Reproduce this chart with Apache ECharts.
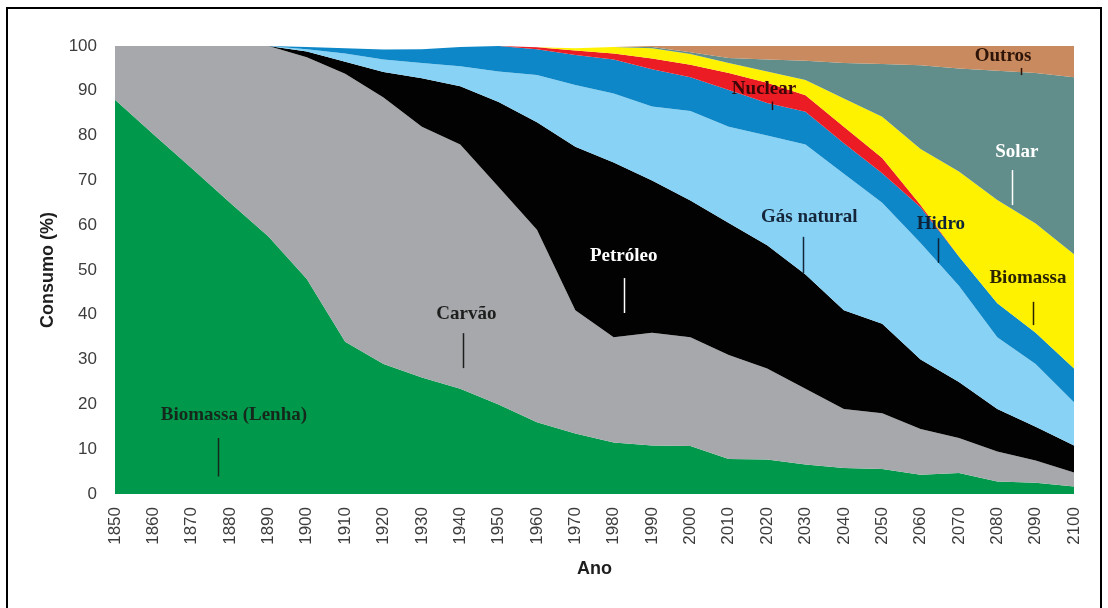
<!DOCTYPE html>
<html>
<head>
<meta charset="utf-8">
<script src="https://cdn.jsdelivr.net/npm/echarts@6/dist/echarts.min.js"></script>
<style>
  html, body { margin: 0; padding: 0; background: #ffffff; }
  #chart { width: 1108px; height: 608px; }
</style>
</head>
<body>
<div id="chart"></div>
<script>
// Participação de cada fonte no consumo mundial de energia (%), por década
const years = [1850, 1860, 1870, 1880, 1890, 1900, 1910, 1920, 1930, 1940, 1950, 1960, 1970,
               1980, 1990, 2000, 2010, 2020, 2030, 2040, 2050, 2060, 2070, 2080, 2090, 2100];

const lenha    = [88, 80.3, 72.7, 65, 57.5, 48, 34, 29, 26, 23.5, 20, 16, 13.5,
                  11.5, 10.8, 10.7, 7.8, 7.7, 6.6, 5.8, 5.6, 4.3, 4.7, 2.8, 2.5, 1.7];
const carvao   = [12, 19.7, 27.3, 35, 42.5, 49.5, 59.8, 59.5, 56, 54.5, 48.5, 43, 27.5,
                  23.5, 25.2, 24.3, 23.2, 20.3, 16.9, 13.2, 12.4, 10.2, 7.8, 6.7, 5, 3.1];
const petroleo = [0, 0, 0, 0, 0, 1.3, 2.7, 5.7, 10.8, 13, 19, 24, 36.5,
                  39, 34, 30.5, 29.5, 27.5, 25.5, 22, 20, 15.5, 12.5, 9.5, 7.5, 6];
const gasNatural = [0, 0, 0, 0, 0, 0.5, 1.8, 2.8, 3.4, 4.5, 6.8, 10.5, 13.8,
                  15.4, 16.5, 20, 21.5, 24.5, 29, 30.5, 27, 26, 21.5, 16, 14, 9.7];
const hidro    = [0, 0, 0, 0, 0, 0.5, 1.2, 2.2, 3.1, 4.3, 5.7, 5.8, 6.7,
                  7.6, 8.3, 7.5, 8.2, 7.3, 7.3, 6.8, 6.6, 8, 6.5, 7.6, 7, 7.5];
const nuclear  = [0, 0, 0, 0, 0, 0, 0, 0, 0, 0, 0, 0.4, 1,
                  1.3, 2.4, 2.8, 3.8, 4.5, 3.7, 3.7, 3.4, 0.5, 0, 0, 0, 0];
const biomassa = [0, 0, 0, 0, 0, 0, 0, 0, 0, 0, 0, 0, 0.5,
                  1.5, 2.3, 2.4, 2.2, 2.5, 3.4, 6.3, 9.2, 12.5, 19, 23, 24.4, 25.5];
const solar    = [0, 0, 0, 0, 0, 0, 0, 0, 0, 0, 0, 0, 0,
                  0, 0.3, 0.4, 1.1, 2.7, 4.3, 7.9, 11.8, 18.7, 23, 28.9, 33.6, 39.5];
const outros   = [0, 0, 0, 0, 0, 0, 0, 0, 0, 0, 0, 0, 0,
                  0, 0.2, 1.4, 2.7, 3, 3.3, 3.8, 4, 4.3, 5, 5.5, 6, 7];

// Camadas, de baixo para cima
const layers = [
  { name: 'Biomassa (Lenha)', values: lenha,      color: '#00994c' },
  { name: 'Carvão',           values: carvao,     color: '#a6a8ab' },
  { name: 'Petróleo',         values: petroleo,   color: '#020202' },
  { name: 'Gás natural',      values: gasNatural, color: '#87d2f5' },
  { name: 'Hidro',            values: hidro,      color: '#0d87c7' },
  { name: 'Nuclear',          values: nuclear,    color: '#ec1c24' },
  { name: 'Biomassa',         values: biomassa,   color: '#fff200' },
  { name: 'Solar',            values: solar,      color: '#618d8a' },
  { name: 'Outros',           values: outros,     color: '#c88a5e' }
];

// Rótulos das camadas: posição do texto e do traço indicador em coordenadas (ano, %)
const annotations = [
  { text: 'Biomassa (Lenha)', at: [1881.0, 17.6], line: [1876.9, 12.5, 3.9],  color: '#16281b' },
  { text: 'Carvão',           at: [1941.6, 40.2], line: [1940.6, 35.9, 28.1], color: '#1e1e1e' },
  { text: 'Petróleo',         at: [1982.6, 53.0], line: [1982.8, 48.2, 40.4], color: '#ffffff' },
  { text: 'Gás natural',      at: [2031.0, 61.9], line: [2029.3, 57.4, 49.3], color: '#16263a' },
  { text: 'Hidro',            at: [2065.3, 60.3], line: [2064.5, 57.1, 51.6], color: '#0e2238' },
  { text: 'Biomassa',         at: [2088.0, 48.1], line: [2089.3, 42.9, 37.7], color: '#2a2300' },
  { text: 'Solar',            at: [2085.1, 76.3], line: [2083.8, 72.3, 64.5], color: '#ffffff' },
  { text: 'Nuclear',          at: [2019.2, 90.4], line: [2021.2, 87.6, 85.7], color: '#3a0808' },
  { text: 'Outros',           at: [2081.5, 97.7], line: [2086.2, 95.1, 93.5], color: '#2e1408' }
];

const chart = echarts.init(document.getElementById('chart'), null, { renderer: 'canvas' });

const tickFont = { fontFamily: 'Liberation Sans, Arial, sans-serif', fontSize: 17, color: '#3c3c3c' };
const titleFont = { fontFamily: 'Liberation Sans, Arial, sans-serif', fontSize: 18, fontWeight: 'bold', color: '#1e1e1e' };

chart.setOption({
  animation: false,
  backgroundColor: '#ffffff',
  grid: { left: 115, right: 34, top: 46, bottom: 114 },
  xAxis: [
    {
      type: 'category',
      data: years.map(String),
      boundaryGap: false,
      name: 'Ano',
      nameLocation: 'middle',
      nameGap: 66,
      nameTextStyle: titleFont,
      axisLine: { show: false },
      axisTick: { show: false },
      splitLine: { show: false },
      axisLabel: Object.assign({ rotate: 90, margin: 13, interval: 0 }, tickFont)
    },
    {
      // eixo auxiliar contínuo (anos) para posicionar os rótulos
      type: 'value',
      min: 1850, max: 2100,
      show: false
    }
  ],
  yAxis: {
    type: 'value',
    min: 0, max: 100, interval: 10,
    name: 'Consumo (%)',
    nameLocation: 'middle',
    nameGap: 58,
    nameTextStyle: titleFont,
    axisLine: { show: false },
    axisTick: { show: false },
    splitLine: { show: false },
    axisLabel: Object.assign({ margin: 18 }, tickFont)
  },
  series: layers.map(l => ({
    name: l.name,
    type: 'line',
    stack: 'consumo',
    xAxisIndex: 0,
    data: l.values,
    showSymbol: false,
    symbol: 'none',
    lineStyle: { width: 0 },
    areaStyle: { color: l.color, opacity: 1 },
    itemStyle: { color: l.color },
    silent: true
  }))
});

// Rótulos e traços desenhados a partir das coordenadas dos dados
const toPx = v => chart.convertToPixel({ xAxisIndex: 1, yAxisIndex: 0 }, v);
const graphics = [];
annotations.forEach(a => {
  const p = toPx(a.at);
  const p1 = toPx([a.line[0], a.line[1]]);
  const p2 = toPx([a.line[0], a.line[2]]);
  graphics.push({
    type: 'text',
    x: p[0], y: p[1],
    style: {
      text: a.text,
      fill: a.color,
      font: 'bold 19px "Liberation Serif", "Times New Roman", serif',
      align: 'center',
      verticalAlign: 'middle'
    },
    z: 100
  });
  graphics.push({
    type: 'line',
    shape: { x1: Math.round(p1[0]) + 0.5, y1: p1[1], x2: Math.round(p2[0]) + 0.5, y2: p2[1] },
    style: { stroke: a.color, lineWidth: 1.5 },
    z: 100
  });
});
// Moldura da figura
graphics.push({
  type: 'rect',
  shape: { x: 7, y: 8, width: 1094, height: 700 },
  style: { fill: 'none', stroke: '#000000', lineWidth: 2 },
  z: 100
});
chart.setOption({ graphic: graphics });
</script>
</body>
</html>
